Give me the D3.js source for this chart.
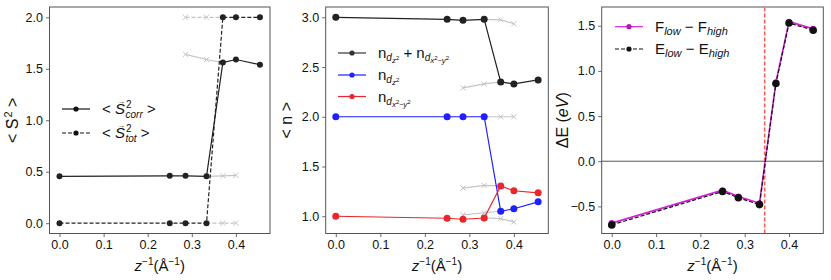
<!DOCTYPE html>
<html>
<head>
<meta charset="utf-8">
<script src="https://cdn.jsdelivr.net/npm/d3@7"></script>
<style>
  body { margin: 0; background: #fff; }
  svg { font-family: "Liberation Sans", Arial, sans-serif; }
</style>
</head>
<body>
<div id="chart"></div>
<script>
// x positions (1/z)
const xs = [0, 0.25, 0.2857, 0.3333, 0.3704, 0.4, 0.4545];
const xsHighMeta = [0.2857, 0.3333, 0.3704];
const xsLowMeta = [0.3333, 0.3704, 0.4];

// panel 1 : spin
const s2Corr = [0.455, 0.46, 0.46, 0.455, 1.56, 1.59, 1.54];
const s2Tot = [0, 0, 0, 0, 2, 2, 2];
const s2CorrHigh = [1.64, 1.59, 1.56];
const s2TotHigh = [2, 2, 2];
const s2CorrLow = [0.455, 0.46, 0.465];
const s2TotLow = [0, 0, 0];

// panel 2 : occupations
const nSum = [3.0, 2.98, 2.97, 2.98, 2.35, 2.33, 2.37];
const nZ2 = [2, 2, 2, 2, 1.05, 1.075, 1.145];
const nX2 = [1.0, 0.98, 0.97, 0.982, 1.305, 1.256, 1.235];
const nSumHigh = [2.29, 2.33, 2.35];
const nSumLow = [2.98, 2.975, 2.935];
const nZ2High = [1.013, 1.035, 1.05];
const nZ2Low = [2, 2, 2];
const nX2High = [1.283, 1.31, 1.305];
const nX2Low = [0.983, 0.976, 0.943];

// panel 3 : energies
const dF = [-0.685, -0.32, -0.39, -0.465, 0.875, 1.545, 1.465];
const dE = [-0.705, -0.335, -0.405, -0.48, 0.86, 1.53, 1.45];
const crossX = 0.345;

const xTicks = [0, 0.1, 0.2, 0.3, 0.4];

const W = 831, H = 280;
const svg = d3.select("#chart").append("svg").attr("width", W).attr("height", H);

// parts: [text, size, italic, baselineOffset, dx]
function rich(t, parts) {
  let prev = 0;
  parts.forEach(([txt, size, it, off, dx]) => {
    const s = t.append("tspan").text(txt).attr("font-size", size);
    if (it) s.attr("font-style", "italic");
    if (off - prev !== 0) s.attr("dy", off - prev);
    if (dx) s.attr("dx", dx);
    prev = off;
  });
}

function panel(left, right, yDomain, yTicks, yLabelFn, labelX) {
  const top = 7, bottom = 233.5;
  const x = d3.scaleLinear().domain([-0.0227, 0.4773]).range([left, right]);
  const y = d3.scaleLinear().domain(yDomain).range([bottom, top]);
  const g = svg.append("g");
  const clip = "clip" + Math.round(left);
  svg.append("clipPath").attr("id", clip).append("rect")
    .attr("x", left).attr("y", top).attr("width", right - left).attr("height", bottom - top);

  const ax = g.append("g").attr("transform", `translate(0,${bottom})`)
    .call(d3.axisBottom(x).tickValues(xTicks).tickFormat(d3.format(".1f")).tickSize(3.5).tickPadding(3));
  const ay = g.append("g").attr("transform", `translate(${left},0)`)
    .call(d3.axisLeft(y).tickValues(yTicks).tickFormat(v => d3.format(".1f")(v).replace("-", "\u2212")).tickSize(3.5).tickPadding(3));
  [ax, ay].forEach(a => {
    a.select(".domain").remove();
    a.selectAll("line").attr("stroke", "#444").attr("stroke-width", 0.8);
    a.selectAll("text").attr("font-size", 12.5).attr("fill", "#111")
      .attr("font-family", "'Liberation Sans', Arial, sans-serif");
  });
  g.append("rect").attr("x", left).attr("y", top).attr("width", right - left).attr("height", bottom - top)
    .attr("fill", "none").attr("stroke", "#555").attr("stroke-width", 1);

  // x label
  const xl = g.append("text").attr("x", (left + right) / 2).attr("y", 271)
    .attr("text-anchor", "middle").attr("fill", "#111");
  rich(xl, [["z", 15, true, 0], ["\u22121", 10, false, -6], ["(\u00C5", 15, false, 0],
            ["\u22121", 10, false, -6], [")", 15, false, 0]]);

  // y label
  const yl = g.append("text").attr("transform", `translate(${labelX},${(top + bottom) / 2}) rotate(-90)`)
    .attr("text-anchor", "middle").attr("font-size", 16).attr("fill", "#111");
  yLabelFn(yl);

  const plot = g.append("g").attr("clip-path", `url(#${clip})`);
  return { x, y, g, plot };
}

function series(p, xv, yv, opt) {
  const line = d3.line().x((d, i) => p.x(xv[i])).y(d => p.y(d));
  p.plot.append("path").datum(yv).attr("d", line)
    .attr("fill", "none").attr("stroke", opt.color).attr("stroke-width", opt.lw || 1.2)
    .attr("stroke-dasharray", opt.dash || null).attr("opacity", opt.alpha || 1);
  if (opt.marker === "o") {
    p.plot.append("g").selectAll("circle").data(yv).join("circle")
      .attr("cx", (d, i) => p.x(xv[i])).attr("cy", d => p.y(d)).attr("r", opt.r || 3)
      .attr("fill", opt.mcolor || opt.color).attr("opacity", opt.alpha || 1);
  } else if (opt.marker === "x") {
    const s = 2.6;
    p.plot.append("g").selectAll("path").data(yv).join("path")
      .attr("d", (d, i) => {
        const cx = p.x(xv[i]), cy = p.y(d);
        return `M${cx - s},${cy - s}L${cx + s},${cy + s}M${cx - s},${cy + s}L${cx + s},${cy - s}`;
      })
      .attr("stroke", opt.color).attr("stroke-width", 1).attr("fill", "none");
  }
}

function legendRow(g, x0, yy, opt, textFn) {
  g.append("line").attr("x1", x0).attr("x2", x0 + 28).attr("y1", yy).attr("y2", yy)
    .attr("stroke", opt.color).attr("stroke-width", opt.lw || 1.2).attr("stroke-dasharray", opt.dash || null);
  g.append("circle").attr("cx", x0 + 14).attr("cy", yy).attr("r", 2.6).attr("fill", opt.mcolor || opt.color);
  const t = g.append("text").attr("x", x0 + 40).attr("y", yy + 5).attr("fill", "#111");
  textFn(t);
}

const grayC = "#c4c4c4";

// ---------- panel 1
const p1 = panel(49.5, 270, [-0.1, 2.1], [0, 0.5, 1, 1.5, 2], t => {
  rich(t, [["<  S", 16, false, 0], ["\u2192", 9, false, -10, -9], ["2", 11, false, -6, 1], ["  >", 16, false, 0]]);
}, 17.5);
series(p1, xsHighMeta, s2TotHigh, { color: grayC, dash: "4,2", marker: "x" });
series(p1, xsHighMeta, s2CorrHigh, { color: grayC, marker: "x" });
series(p1, xsLowMeta, s2TotLow, { color: grayC, dash: "4,2", marker: "x" });
series(p1, xsLowMeta, s2CorrLow, { color: grayC, marker: "x" });
series(p1, xs, s2Corr, { color: "#222", marker: "o" });
series(p1, xs, s2Tot, { color: "#222", dash: "4,2", marker: "o" });

function s2Text(t, sub) {
  rich(t, [["<  ", 15, false, 0], ["S", 15, true, 0], ["\u2192", 8, false, -10, -8],
           ["2", 10, false, -6, 1], [sub, 10, true, 4, -6], ["  >", 15, false, 0]]);
}
legendRow(p1.g, 62, 109, { color: "#111" }, t => s2Text(t, "corr"));
legendRow(p1.g, 62, 133, { color: "#111", dash: "4,2" }, t => s2Text(t, "tot"));

// ---------- panel 2
const p2 = panel(325.7, 548.3, [0.8265, 3.1035], [1, 1.5, 2, 2.5, 3], t => {
  t.text("<  n  >");
}, 292);
series(p2, xsHighMeta, nSumHigh, { color: grayC, marker: "x" });
series(p2, xsLowMeta, nSumLow, { color: grayC, marker: "x" });
series(p2, xsHighMeta, nZ2High, { color: grayC, marker: "x" });
series(p2, xsLowMeta, nZ2Low, { color: grayC, marker: "x" });
series(p2, xsHighMeta, nX2High, { color: grayC, marker: "x" });
series(p2, xsLowMeta, nX2Low, { color: grayC, marker: "x" });
series(p2, xs, nSum, { color: "#222", marker: "o", r: 3.5 });
series(p2, xs, nZ2, { color: "#1f1fff", marker: "o", r: 3.5 });
series(p2, xs, nX2, { color: "#e8262b", marker: "o", r: 3.5 });

const nZ2Parts = [["n", 15, false, 0], ["d", 10, true, 3], ["z", 8, true, 5], ["2", 6, false, 2]];
const nX2Parts = [["n", 15, false, 0], ["d", 10, true, 3], ["x", 8, true, 5], ["2", 6, false, 2],
                  ["\u2212", 7, false, 5], ["y", 8, true, 5], ["2", 6, false, 2]];
legendRow(p2.g, 338, 53, { color: "#333" }, t => {
  rich(t, [...nZ2Parts, [" + ", 15, false, 0], ...nX2Parts, [" ", 15, false, 0]]);
});
legendRow(p2.g, 338, 75, { color: "#1f1fff" }, t => rich(t, nZ2Parts));
legendRow(p2.g, 338, 96.5, { color: "#e8262b" }, t => rich(t, nX2Parts));

// ---------- panel 3
const p3 = panel(601.7, 823.3, [-0.80, 1.707], [-0.5, 0, 0.5, 1, 1.5], t => {
  rich(t, [["\u0394E (", 16, false, 0], ["eV", 16, true, 0], [")", 16, false, 0]]);
}, 568);
p3.plot.append("line").attr("x1", p3.x(-0.1)).attr("x2", p3.x(0.6))
  .attr("y1", p3.y(0)).attr("y2", p3.y(0)).attr("stroke", "#555").attr("stroke-width", 1);
p3.plot.append("line").attr("x1", p3.x(crossX)).attr("x2", p3.x(crossX))
  .attr("y1", p3.y(-1)).attr("y2", p3.y(2)).attr("stroke", "#f0605a")
  .attr("stroke-width", 1.6).attr("stroke-dasharray", "4,2");
series(p3, xs, dF, { color: "#d81fd8", marker: "o", r: 3, lw: 1.6 });
series(p3, xs, dE, { color: "#111", dash: "4,2", marker: "o", r: 3.8 });

function flText(t, a) {
  rich(t, [[a, 15, false, 0], ["low", 11, true, 3], [" \u2212 " + a, 15, false, 0], ["high", 11, true, 3]]);
}
legendRow(p3.g, 615, 26.7, { color: "#d81fd8", mcolor: "#b018b0" }, t => flText(t, "F"));
legendRow(p3.g, 615, 49, { color: "#111", dash: "4,2" }, t => flText(t, "E"));
</script>
</body>
</html>
